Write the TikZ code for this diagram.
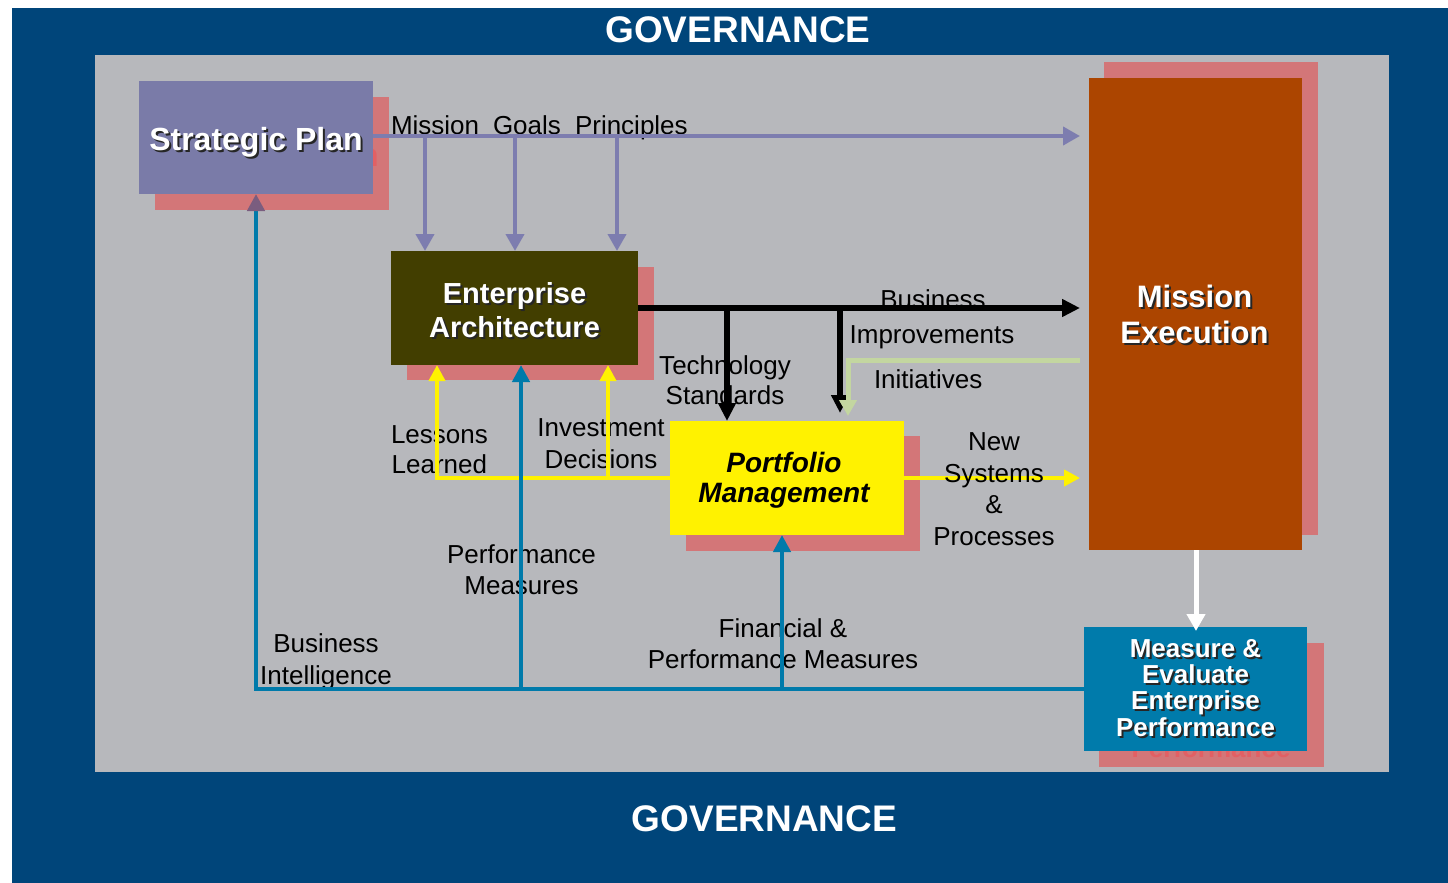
\documentclass[tikz,border=0pt]{standalone}
\usepackage{fontspec}
\setmainfont{Liberation Sans}
\usetikzlibrary{arrows.meta,calc}
\definecolor{govblue}{RGB}{0,69,122}
\definecolor{stagegray}{RGB}{183,184,188}
\definecolor{shadowpink}{RGB}{211,118,120}
\definecolor{ghostred}{RGB}{226,96,100}
\definecolor{spurple}{RGB}{122,123,168}
\definecolor{eaolive}{RGB}{66,62,0}
\definecolor{meorange}{RGB}{172,69,0}
\definecolor{mepblue}{RGB}{0,123,171}
\definecolor{lineblue}{RGB}{0,122,170}
\definecolor{linepurple}{RGB}{125,125,175}
\definecolor{linegreen}{RGB}{195,214,160}
\definecolor{tipmauve}{RGB}{122,93,127}
\newcommand{\ShadowedText}[4]{%
  \node[#3, text=black!85, anchor=base] (#1-sh) at ($(#2)+(2,2)$) {#4};
  \node[#3, text=white, anchor=base] (#1) at (#2) {#4};}
\begin{document}
\begin{tikzpicture}[x=1pt,y=-1pt,
  block/.style={inner sep=0pt, outer sep=0pt, draw=none, anchor=north west},
  shade/.style={block, fill=shadowpink},
  label/.style={inner sep=0pt, outer sep=0pt, align=center, text=black,
    font=\fontsize{26}{32}\selectfont},
  govtext/.style={inner sep=0pt, text=white, font=\fontsize{37}{40}\selectfont\bfseries},
  purpleline/.style={draw=linepurple, line width=4pt},
  purplearrow/.style={purpleline, -{Triangle[length=17pt, width=18pt]}},
  blackarrow/.style={draw=black, line width=6pt, -{Triangle[length=18pt, width=17pt]}},
  yellowarrow/.style={draw=yellow, line width=4pt, -{Triangle[length=16pt, width=16pt]}},
  bluearrow/.style={draw=lineblue, line width=4.5pt, -{Triangle[length=17pt, width=17pt]}},
  greenarrow/.style={draw=linegreen, line width=5pt, -{Triangle[length=16pt, width=17pt]}},
  whitearrow/.style={draw=white, line width=5pt, -{Triangle[length=17pt, width=18pt]}}
]
\useasboundingbox (0,0) rectangle (1448,883);
\fill[white] (0,0) rectangle (1448,883);
% governance frame
\node[block, fill=govblue, minimum width=1436pt, minimum height=875pt] (gov) at (12,8) {};
\node[block, fill=stagegray, minimum width=1294pt, minimum height=717pt] (stage) at (95,55) {};
\node[govtext, anchor=base] (govtop) at (738,43) {GOVERNANCE};
\node[govtext, anchor=base] (govbot) at (764.5,831) {GOVERNANCE};

% shadows
\node[shade, minimum width=234pt, minimum height=113pt] (SPsh) at (155,97) {};
\node[text=ghostred, anchor=base, inner sep=0pt, font=\fontsize{32}{34}\selectfont\bfseries] (SPghost) at (272,166) {Strategic Plan};
\node[shade, minimum width=247pt, minimum height=113pt] (EAsh) at (407,267) {};
\node[shade, minimum width=234pt, minimum height=115pt] (PMsh) at (686,436) {};
\node[shade, minimum width=214pt, minimum height=473pt] (MEsh) at (1104,62) {};
\node[shade, minimum width=225pt, minimum height=124pt] (MEPsh) at (1099,643) {};
\node[text=ghostred, anchor=base, inner sep=0pt, font=\fontsize{26}{26}\selectfont\bfseries] (MEPghost) at (1211,757) {Performance};

% boxes
\node[block, fill=spurple, minimum width=234pt, minimum height=113pt] (SP) at (139,81) {};
\node[block, fill=eaolive, minimum width=247pt, minimum height=114pt] (EA) at (391,251) {};
\node[block, fill=yellow, minimum width=234pt, minimum height=114pt] (PM) at (670,421) {};
\node[block, fill=meorange, minimum width=213pt, minimum height=472pt] (ME) at (1089,78) {};
\node[block, fill=mepblue, minimum width=223pt, minimum height=124pt] (MEP) at (1084,627) {};

% labels (behind connectors); multi-line nodes anchored at last baseline
\node[label, anchor=base west] (lmission) at (391,134) {Mission};
\node[label, anchor=base west] (lgoals) at (493,134) {Goals};
\node[label, anchor=base west] (lprinc) at (575,134) {Principles};
\node[label, anchor=base] (lbusiness) at (933,308) {Business};
\node[label, anchor=base] (limprove) at (932,343) {Improvements};
\node[label, anchor=base west] (linit) at (874,388) {Initiatives};
\node[label, anchor=base] (ltech) at (725,404) {Technology\\[-2pt]Standards};
\node[label, anchor=base west] (llessons) at (391,473) {Lessons\\[-2pt]Learned};
\node[label, anchor=base] (linvest) at (601,468) {Investment\\Decisions};
\node[label, anchor=base] (lperf) at (521.5,594) {Performance\\[-1pt]Measures};
\node[label, anchor=base] (lbi) at (326,684) {Business\\Intelligence};
\node[label, anchor=base] (lfin) at (783,668) {Financial \&\\[-1pt]Performance Measures};

% connectors
\draw[purplearrow] (SP.east |- 0,136) -- ([xshift=-9pt]ME.west |- 0,136);
\draw[purplearrow] (425,136) -- (EA.north -| 425,0);
\draw[purplearrow] (515,136) -- (EA.north -| 515,0);
\draw[purplearrow] (617,136) -- (EA.north -| 617,0);

\draw[blackarrow] (EA.east) -- ([xshift=-9pt]ME.west |- EA.east);
\draw[blackarrow] (727,308) -- (PM.north -| 727,0);
\draw[blackarrow] (840,308) -- (840,413);

\draw[greenarrow] ([xshift=-9pt]ME.west |- 0,360) -- (848,360) -- (848,416);

\draw[yellowarrow] (PM.west) -- (437,478) -- (EA.south -| 437,0);
\draw[yellowarrow] (608,478) -- (EA.south -| 608,0);
\draw[yellowarrow] (PM.east) -- ([xshift=-9pt]ME.west |- PM.east);

\draw[draw=lineblue, line width=4.5pt, -{Triangle[length=17pt, width=17pt, color=tipmauve]}] (MEP.west) -- (256,689) -- (SP.south);
\draw[bluearrow] (521,689) -- (EA.south -| 521,0);
\draw[bluearrow] (782,689) -- (PM.south -| 782,0);

\draw[whitearrow] (ME.south -| 1196,0) -- ([yshift=-4pt]MEP.north -| 1196,0);

% labels on top of connectors
\node[label, anchor=base] (lnew) at (994,545) {New\\Systems\\[-1pt]\&\\Processes};

% box texts
\ShadowedText{tSP}{256,150}{inner sep=0pt, font=\fontsize{32}{34}\selectfont\bfseries}{Strategic Plan}
\ShadowedText{tEA}{514.5,337}{inner sep=0pt, align=center, font=\fontsize{29}{34}\selectfont\bfseries}{Enterprise\\Architecture}
\node[inner sep=0pt, anchor=base, align=center, text=black, font=\fontsize{28}{30}\selectfont\bfseries\itshape] (tPM) at (784,502) {Portfolio\\Management};
\ShadowedText{tME}{1194.5,343}{inner sep=0pt, align=center, font=\fontsize{31}{36}\selectfont\bfseries}{Mission\\Execution}
\ShadowedText{tMEP}{1195.5,736}{inner sep=0pt, align=center, font=\fontsize{26}{26.3}\selectfont\bfseries}{Measure \&\\Evaluate\\Enterprise\\Performance}
\end{tikzpicture}
\end{document}
